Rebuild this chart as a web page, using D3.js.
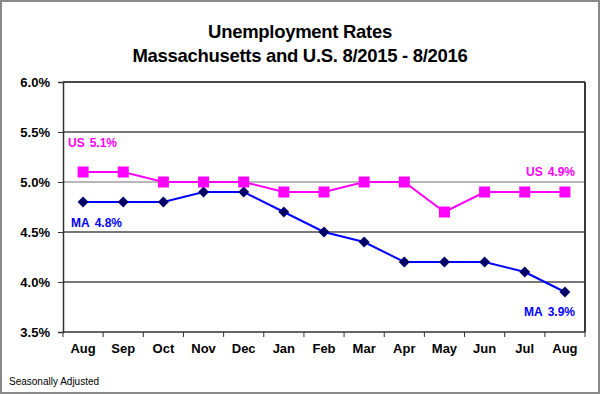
<!DOCTYPE html>
<html>
<head>
<meta charset="utf-8">
<script src="https://cdn.jsdelivr.net/npm/d3@7"></script>
<style>
  body { margin: 0; background: #fff; }
  text { font-family: Arial, "Liberation Sans", sans-serif; }
</style>
</head>
<body>
<script>
let months = ["Aug","Sep","Oct","Nov","Dec","Jan","Feb","Mar","Apr","May","Jun","Jul","Aug"]
let usRate = [5.1,5.1,5.0,5.0,5.0,4.9,4.9,5.0,5.0,4.7,4.9,4.9,4.9]
let maRate = [4.8,4.8,4.8,4.9,4.9,4.7,4.5,4.4,4.2,4.2,4.2,4.1,3.9]
let yTicks = [3.5,4.0,4.5,5.0,5.5,6.0]

let W = 600, H = 394
let margin = {left:63, right:15, top:82, bottom:62}
let w = W - margin.left - margin.right
let h = H - margin.top - margin.bottom

let svg = d3.select("body").append("svg").attr("width",W).attr("height",H)

// outer frame
svg.append("rect").attr("x",1).attr("y",1).attr("width",W-2).attr("height",H-2)
   .attr("fill","#fff").attr("stroke","#8a8a8a").attr("stroke-width",2)

// title
svg.append("text").attr("x",W/2).attr("y",38).attr("text-anchor","middle")
   .attr("font-size",18.5).attr("font-weight","bold").attr("letter-spacing",-0.3)
   .text("Unemployment Rates")
svg.append("text").attr("x",W/2).attr("y",62).attr("text-anchor","middle")
   .attr("font-size",18.5).attr("font-weight","bold").attr("letter-spacing",-0.3)
   .text("Massachusetts and U.S. 8/2015 - 8/2016")

let idx = d3.range(months.length)
let x = d3.scaleBand().domain(idx).range([0,w])
let y = d3.scaleLinear().domain([3.5,6.0]).range([h,0])

let g = svg.append("g").attr("transform","translate("+margin.left+","+margin.top+")")

// gridlines
g.selectAll("line.grid").data(yTicks.slice(1)).enter().append("line")
 .attr("class","grid")
 .attr("x1",0).attr("x2",w)
 .attr("y1",d=>y(d)).attr("y2",d=>y(d))
 .attr("stroke",d=>d===5.0?"#a0a0a0":"#4a4a4a").attr("stroke-width",d=>d===6.0?2:1.3)

// right frame
g.append("line").attr("x1",w).attr("x2",w).attr("y1",0).attr("y2",h)
 .attr("stroke","#3a3a3a").attr("stroke-width",2)

// y axis
let yAxis = g.append("g").call(d3.axisLeft(y).tickValues(yTicks).tickSize(5).tickPadding(8)
                .tickFormat(d=>d.toFixed(1)+"%"))
yAxis.select(".domain").attr("stroke","#333").attr("stroke-width",1.5)
yAxis.selectAll(".tick line").attr("stroke","#333")
yAxis.selectAll("text").attr("font-size",13).attr("font-weight","bold").attr("fill","#000")
     .attr("font-family","Arial, 'Liberation Sans', sans-serif")

// x axis: ticks between categories
let xg = g.append("g").attr("transform","translate(0,"+h+")")
xg.append("line").attr("x1",0).attr("x2",w).attr("stroke","#333").attr("stroke-width",1.5)
xg.selectAll("line.tk").data(d3.range(months.length+1)).enter().append("line")
  .attr("class","tk")
  .attr("x1",i=>i*x.step()).attr("x2",i=>i*x.step())
  .attr("y1",0).attr("y2",5).attr("stroke","#333")
xg.selectAll("text").data(idx).enter().append("text")
  .attr("x",i=>x(i)+x.bandwidth()/2).attr("y",21)
  .attr("text-anchor","middle").attr("font-size",13).attr("font-weight","bold")
  .text(i=>months[i])

let cx = i=>x(i)+x.bandwidth()/2

// MA line
let line = d3.line().x((d,i)=>cx(i)).y(d=>y(d))
g.append("path").datum(maRate).attr("d",line)
 .attr("fill","none").attr("stroke","#0000ff").attr("stroke-width",2)
g.selectAll("path.ma").data(maRate).enter().append("path")
 .attr("class","ma")
 .attr("d",d3.symbol().type(d3.symbolSquare).size(60))
 .attr("transform",(d,i)=>"translate("+cx(i)+","+y(d)+") rotate(45)")
 .attr("fill","#000066")

// US line
g.append("path").datum(usRate).attr("d",line)
 .attr("fill","none").attr("stroke","#ff00ff").attr("stroke-width",2)
g.selectAll("rect.us").data(usRate).enter().append("rect")
 .attr("class","us")
 .attr("x",(d,i)=>cx(i)-5.5).attr("y",d=>y(d)-5.5)
 .attr("width",11).attr("height",11)
 .attr("fill","#ff00ff")

// end labels
let lbl = [
  {t:"US", v:"5.1%", x:5, y:y(usRate[0])-25, c:"#ff00ff", a:"start"},
  {t:"MA", v:"4.8%", x:8, y:y(maRate[0])+25, c:"#0000ff", a:"start"},
  {t:"US", v:"4.9%", x:w-10, y:y(usRate[12])-16, c:"#ff00ff", a:"end"},
  {t:"MA", v:"3.9%", x:w-10, y:y(maRate[12])+24, c:"#0000ff", a:"end"}
]
lbl.forEach(d=>{
  let t = g.append("text").attr("x",d.x).attr("y",d.y).attr("text-anchor",d.a)
           .attr("fill",d.c).attr("font-weight","bold").attr("font-size",12)
  t.append("tspan").text(d.t)
  t.append("tspan").attr("dx",5).text(d.v)
})

// footnote
svg.append("text").attr("x",9).attr("y",385).attr("font-size",10).attr("fill","#000")
   .text("Seasonally Adjusted")
</script>
</body>
</html>
